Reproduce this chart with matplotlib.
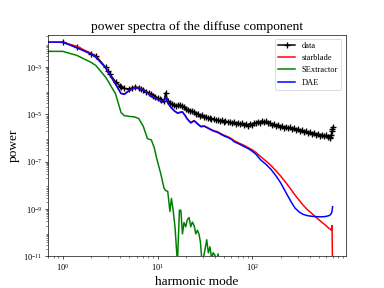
import matplotlib

matplotlib.use("Agg")
import matplotlib.pyplot as plt
import numpy as np
from matplotlib.ticker import LogLocator, NullFormatter

plt.rcParams["font.family"] = ["Liberation Serif", "DejaVu Serif"]
plt.rcParams["mathtext.fontset"] = "stix"

# harmonic modes and log10(power)
data_modes = [
    1, 1.41, 2, 2.24, 2.83, 3, 3.16, 3.61, 4, 4.12,
    4.47, 5, 5.39, 5.83, 6.32, 6.71, 7.07, 7.62, 8.06, 8.6,
    9.06, 9.49, 10, 10.5, 11, 11.7, 12.2, 12.8, 13.4, 14.1,
    14.8, 15.5, 16.3, 17.1, 18, 18.9, 19.8, 20.8, 21.8, 22.9,
    24, 25.2, 26.5, 27.8, 29.2, 30.7, 32.2, 33.8, 35.5, 37,
    39, 41, 43, 45, 48, 50, 52, 55, 58, 61,
    64, 67, 70, 74, 77, 81, 85, 90, 94, 99,
    104, 109, 114, 120, 126, 132, 139, 146, 153, 161,
    169, 177, 186, 195, 205, 215, 226, 237, 249, 261,
    274, 288, 302, 317, 333, 350, 367, 386, 405, 425,
    446, 469, 492, 517, 543, 570, 598, 628, 650, 665,
    680, 690, 695, 700,
]
data_logpow = [
    -1.94, -2.16, -2.43, -2.52, -3.00, -3.18, -3.30, -3.62, -3.78, -3.82,
    -3.90, -3.92, -3.88, -3.84, -3.86, -3.93, -3.97, -4.04, -4.08, -4.15,
    -4.20, -4.24, -4.30, -4.36, -4.40, -4.42, -4.08, -4.45, -4.52, -4.56,
    -4.60, -4.63, -4.61, -4.60, -4.63, -4.69, -4.77, -4.79, -4.84, -4.86,
    -4.90, -4.98, -4.98, -5.05, -5.04, -5.11, -5.09, -5.16, -5.15, -5.21,
    -5.18, -5.24, -5.22, -5.27, -5.25, -5.30, -5.27, -5.33, -5.31, -5.36,
    -5.32, -5.39, -5.35, -5.42, -5.38, -5.45, -5.40, -5.47, -5.39, -5.43,
    -5.35, -5.38, -5.30, -5.34, -5.27, -5.33, -5.29, -5.37, -5.34, -5.43,
    -5.40, -5.48, -5.44, -5.53, -5.49, -5.56, -5.51, -5.59, -5.55, -5.63,
    -5.59, -5.67, -5.63, -5.71, -5.67, -5.75, -5.71, -5.79, -5.75, -5.82,
    -5.78, -5.85, -5.81, -5.89, -5.85, -5.92, -5.88, -5.97, -5.94, -5.99,
    -5.88, -5.70, -5.60, -5.55,
]

model_modes = [
    0, 1, 1.41, 2, 2.24, 2.83, 3, 3.61, 4.12, 4.47,
    5, 5.66, 6.32, 7.07, 8, 8.5, 9.5, 10.8, 11.5, 12.2,
    13, 13.8, 15, 16.3, 17.2, 18.3, 19.5, 20.6, 22.4, 24.3,
    26.3, 28.6, 31, 33.6, 36.5, 39.4, 43, 47, 51, 55,
    60, 64, 70, 75, 82, 90, 100, 110, 122, 138,
    156, 176, 197, 222, 252, 280, 310, 340, 380, 410,
    460, 525, 580, 615, 640, 660, 680, 690, 700,
]
starblade_logpow = [
    -1.94, -1.94, -2.12, -2.42, -2.56, -3.02, -3.20, -3.72, -4.10, -4.13,
    -3.99, -3.88, -3.86, -3.97, -4.11, -4.20, -4.32, -4.41, -4.47, -4.28,
    -4.54, -4.69, -4.84, -4.94, -4.90, -4.88, -5.03, -5.18, -5.34, -5.25,
    -5.38, -5.50, -5.48, -5.55, -5.63, -5.69, -5.73, -5.82, -5.89, -5.94,
    -6.02, -6.11, -6.18, -6.24, -6.31, -6.40, -6.50, -6.62, -6.78, -6.96,
    -7.15, -7.37, -7.59, -7.85, -8.14, -8.40, -8.62, -8.82, -9.03, -9.14,
    -9.32, -9.52, -9.66, -9.75, -9.82, -9.84, -9.90, -9.70, -11.5,
]
dae_logpow = [
    -1.94, -1.94, -2.18, -2.45, -2.58, -3.02, -3.20, -3.72, -4.12, -4.15,
    -4.00, -3.88, -3.87, -3.98, -4.12, -4.22, -4.33, -4.42, -4.48, -4.28,
    -4.55, -4.70, -4.85, -4.95, -4.92, -4.90, -5.05, -5.20, -5.36, -5.27,
    -5.40, -5.52, -5.50, -5.57, -5.65, -5.71, -5.76, -5.85, -5.92, -5.97,
    -6.05, -6.15, -6.22, -6.28, -6.36, -6.44, -6.56, -6.70, -6.92, -7.10,
    -7.31, -7.58, -7.87, -8.25, -8.65, -8.95, -9.12, -9.22, -9.28, -9.30,
    -9.32, -9.33, -9.32, -9.30, -9.28, -9.25, -9.18, -9.10, -8.90,
]

sex_modes = [
    0, 1, 1.41, 2, 2.24, 2.83, 3, 3.61, 4.12, 4.47,
    5, 5.66, 6.32, 7.07, 7.81, 8.6, 9.22, 9.85, 10.8, 11.7,
    12.2, 12.8, 13.5, 14, 14.6, 15.3, 16.2, 17, 17.6, 18.3,
    19, 19.8, 20.6, 21.5, 22.4, 23.3, 24.3, 25.3, 26.3, 27.3,
    28.3, 29.5, 30.7, 32, 33, 34.3, 35.7, 37.1, 38.6, 40.2,
    41.8, 43.5, 45, 47, 50,
]
sex_logpow = [
    -2.33, -2.33, -2.50, -2.80, -2.93, -3.42, -3.58, -4.13, -4.92, -5.05,
    -5.08, -5.10, -5.17, -5.50, -6.02, -6.08, -6.40, -6.90, -7.50, -8.12,
    -8.22, -8.25, -9.10, -8.55, -9.05, -9.80, -11.3, -9.05, -9.05, -10.05,
    -9.57, -9.75, -9.45, -9.36, -9.75, -9.55, -9.70, -10.05, -9.90, -10.05,
    -10.40, -11.3, -11.0, -10.60, -10.30, -10.85, -10.60, -11.1, -10.85, -10.95,
    -11.2, -10.90, -11.3, -11.6, -12.0,
]

fig, ax = plt.subplots(figsize=(6.4, 4.8), dpi=60)
ax.set_xscale("log", nonpositive="clip")
ax.set_yscale("log")

ax.plot(data_modes, 10 ** np.array(data_logpow), "k-", lw=1.8, marker="+",
        ms=8, mew=1.6, label="data")
ax.plot(model_modes, 10 ** np.array(starblade_logpow), "r-", lw=1.8, label="starblade")
ax.plot(sex_modes, 10 ** np.array(sex_logpow), "g-", lw=1.8, label="SExtractor")
ax.plot(model_modes, 10 ** np.array(dae_logpow), "b-", lw=1.8, label="DAE")

ax.set_xlim(0.70, 960)
ax.set_ylim(1e-11, 2.4e-2)
ax.set_yticks([1e-11, 1e-9, 1e-7, 1e-5, 1e-3])
ax.yaxis.set_minor_locator(LogLocator(base=10, subs=np.arange(2, 10), numticks=100))
ax.yaxis.set_minor_formatter(NullFormatter())

ax.set_title("power spectra of the diffuse component", fontsize=16)
ax.set_xlabel("harmonic mode", fontsize=16)
ax.set_ylabel("power", fontsize=16)
ax.legend(loc="upper right", fontsize=10)

fig.savefig("out.png", dpi=60)
